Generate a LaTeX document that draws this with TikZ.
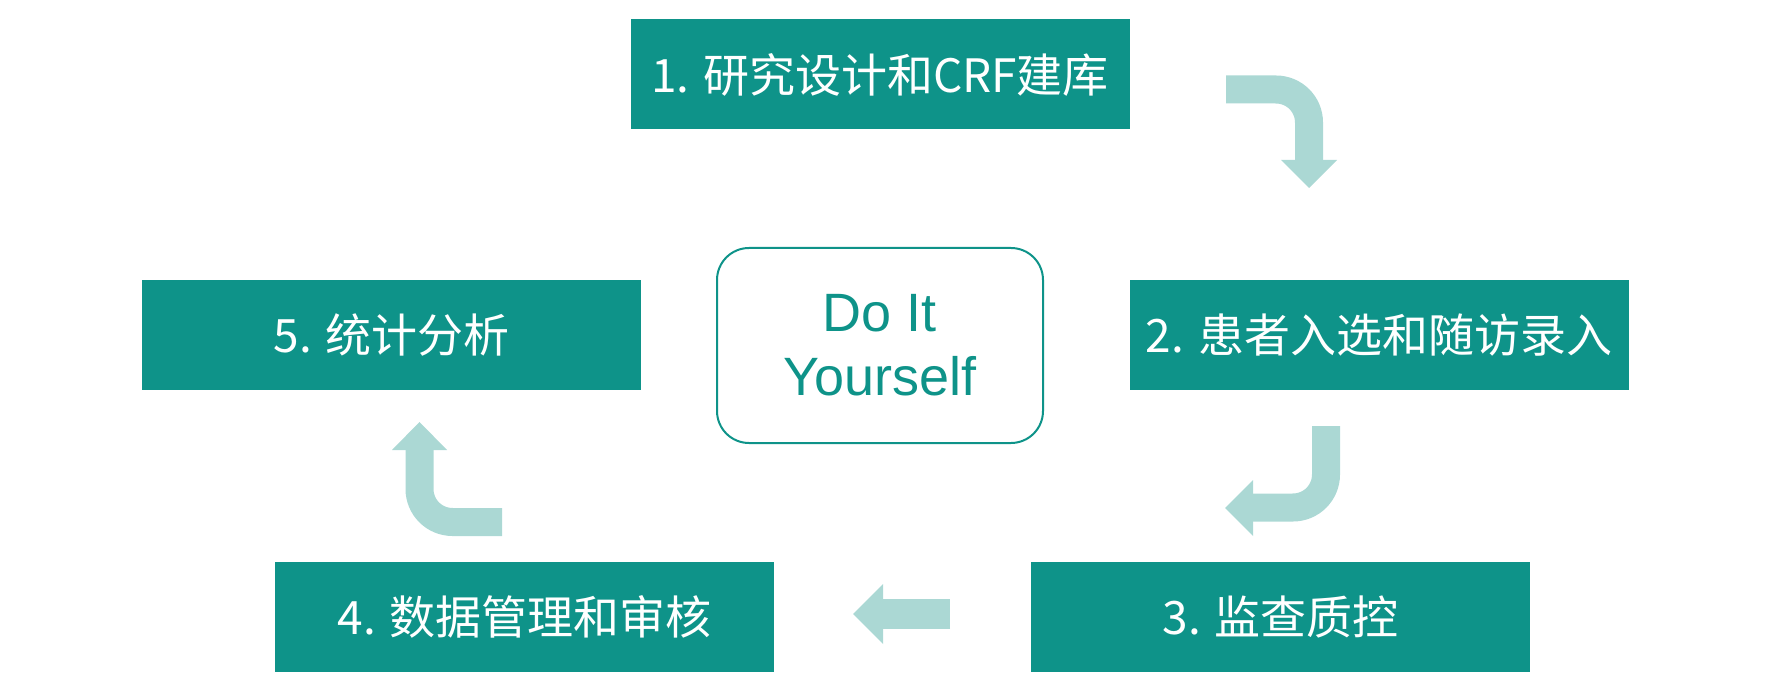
\documentclass[tikz,border=0pt]{standalone}
\usepackage{fontspec}
\newfontfamily\cjk{Noto Sans CJK SC}
\newfontfamily\arialf{Liberation Sans}
\definecolor{teal1}{RGB}{14,147,137}
\definecolor{light1}{RGB}{171,216,212}
\begin{document}
\begin{tikzpicture}[x=1pt,y=-1pt,
  stepbox/.style={fill=teal1, minimum width=499pt, minimum height=110pt, inner sep=0pt,
    text=white, font=\cjk\fontsize{46}{56}\selectfont},
  bendarrow/.style={draw=light1, line width=28pt, rounded corners=33pt},
  headtip/.style={fill=light1}]
\useasboundingbox (0,0) rectangle (1788,692);
% steps
\node[stepbox] (s1) at (880,74.5) {1. 研究设计和CRF建库};
\node[stepbox] (s2) at (1379,335) {2. 患者入选和随访录入};
\node[stepbox] (s3) at (1280.5,617) {3. 监查质控};
\node[stepbox] (s4) at (524.5,617) {4. 数据管理和审核};
\node[stepbox] (s5) at (391.5,335) {5. 统计分析};
% centre
\node[draw=teal1, line width=2pt, rounded corners=32pt, minimum width=326pt,
  minimum height=195pt, text=teal1, align=center,
  font=\arialf\fontsize{54}{64}\selectfont] (c) at (880,345.5) {Do It\\Yourself};
% arrow 1
\coordinate (a1s) at (1226,89.5);
\coordinate (a1c) at (1309,89.5);
\coordinate (a1e) at (1309,161);
\draw[bendarrow] (a1s) -- (a1c) -- (a1e);
\fill[headtip] (1281,160) -- (1337,160) -- (1309,188) -- cycle;
% arrow 2
\coordinate (a2s) at (1326,426);
\coordinate (a2c) at (1326,507.5);
\coordinate (a2e) at (1252,507.5);
\draw[bendarrow] (a2s) -- (a2c) -- (a2e);
\fill[headtip] (1253,480) -- (1253,536) -- (1225,508) -- cycle;
% arrow 3
\coordinate (a3s) at (502,522);
\coordinate (a3c) at (419.5,522);
\coordinate (a3e) at (419.5,449);
\draw[bendarrow] (a3s) -- (a3c) -- (a3e);
\fill[headtip] (392,450) -- (447,450) -- (419.5,422) -- cycle;
% arrow 4
\coordinate (a4s) at (950,614);
\coordinate (a4e) at (882,614);
\draw[draw=light1, line width=30pt] (a4s) -- (a4e);
\fill[headtip] (883,584) -- (883,644) -- (853,614) -- cycle;
\end{tikzpicture}
\end{document}
